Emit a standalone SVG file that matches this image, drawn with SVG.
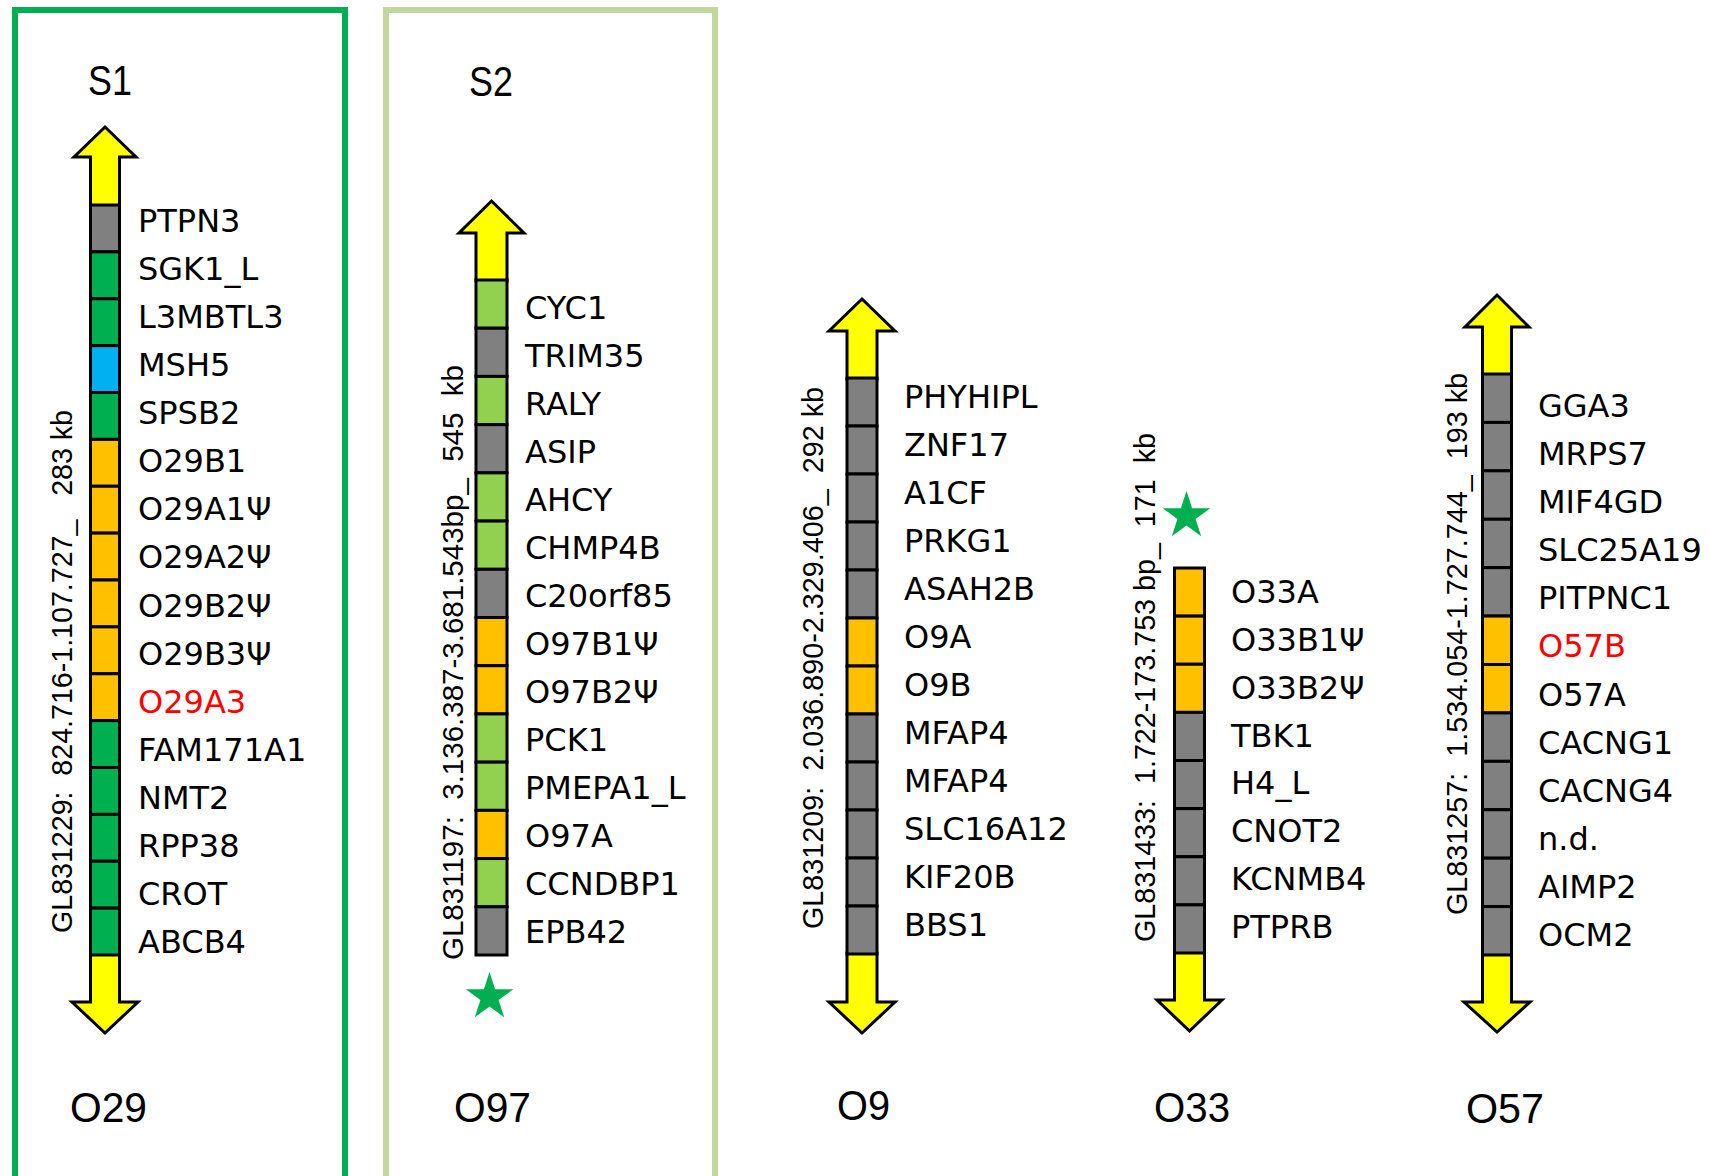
<svg xmlns="http://www.w3.org/2000/svg" width="1710" height="1176" viewBox="0 0 1710 1176">
<style>
.gene{font-family:"DejaVu Sans","Liberation Sans",sans-serif;font-size:32px;fill:#000}
.red{fill:#ff0000}
.vert{font-family:"Liberation Sans",Arial,sans-serif;font-size:29px;fill:#000;white-space:pre}
.head{font-family:"Liberation Sans",Arial,sans-serif;font-size:43px;fill:#000}
.seg{stroke:#000;stroke-width:3}
.arrow{fill:#ffff00;stroke:#000;stroke-width:3;stroke-linejoin:miter}
.g{fill:#808080}.dg{fill:#00b050}.lg{fill:#92d050}.o{fill:#ffc000}.b{fill:#00b0f0}
.star{fill:#00b050}
</style>
<defs>
<path id="star" d="M0,-25 L5.61,-7.73 L23.78,-7.73 L9.08,2.95 L14.69,20.23 L0,9.55 L-14.69,20.23 L-9.08,2.95 L-23.78,-7.73 L-5.61,-7.73 Z"/>
</defs>
<rect x="15" y="10" width="330" height="1180" fill="none" stroke="#00b050" stroke-width="6"/>
<rect x="386" y="10" width="329" height="1180" fill="none" stroke="#c3d69b" stroke-width="6"/>

<g id="O29">
<text class="head" x="88" y="95" textLength="44" lengthAdjust="spacingAndGlyphs">S1</text>
<polygon class="arrow" points="90.5,206 90.5,157 74,157 105,127 136,157 119.5,157 119.5,206"/>
<polygon class="arrow" points="90.5,954 90.5,1002 72,1002 105,1033 138,1002 119.5,1002 119.5,954"/>
<rect class="seg g" x="90.5" y="205" width="29" height="46.875"/>
<rect class="seg dg" x="90.5" y="251.875" width="29" height="46.875"/>
<rect class="seg dg" x="90.5" y="298.75" width="29" height="46.875"/>
<rect class="seg b" x="90.5" y="345.625" width="29" height="46.875"/>
<rect class="seg dg" x="90.5" y="392.5" width="29" height="46.875"/>
<rect class="seg o" x="90.5" y="439.375" width="29" height="46.875"/>
<rect class="seg o" x="90.5" y="486.25" width="29" height="46.875"/>
<rect class="seg o" x="90.5" y="533.125" width="29" height="46.875"/>
<rect class="seg o" x="90.5" y="580" width="29" height="46.875"/>
<rect class="seg o" x="90.5" y="626.875" width="29" height="46.875"/>
<rect class="seg o" x="90.5" y="673.75" width="29" height="46.875"/>
<rect class="seg dg" x="90.5" y="720.625" width="29" height="46.875"/>
<rect class="seg dg" x="90.5" y="767.5" width="29" height="46.875"/>
<rect class="seg dg" x="90.5" y="814.375" width="29" height="46.875"/>
<rect class="seg dg" x="90.5" y="861.25" width="29" height="46.875"/>
<rect class="seg dg" x="90.5" y="908.125" width="29" height="46.875"/>
<text class="gene" x="138" y="232">PTPN3</text>
<text class="gene" x="138" y="280">SGK1_L</text>
<text class="gene" x="138" y="328">L3MBTL3</text>
<text class="gene" x="138" y="376">MSH5</text>
<text class="gene" x="138" y="424">SPSB2</text>
<text class="gene" x="138" y="472">O29B1</text>
<text class="gene" x="138" y="520">O29A1Ψ</text>
<text class="gene" x="138" y="568">O29A2Ψ</text>
<text class="gene" x="138" y="617">O29B2Ψ</text>
<text class="gene" x="138" y="665">O29B3Ψ</text>
<text class="gene red" x="138" y="713">O29A3</text>
<text class="gene" x="138" y="761">FAM171A1</text>
<text class="gene" x="138" y="809">NMT2</text>
<text class="gene" x="138" y="857">RPP38</text>
<text class="gene" x="138" y="905">CROT</text>
<text class="gene" x="138" y="953">ABCB4</text>
<text class="vert" transform="translate(72,933) rotate(-90)" textLength="523" lengthAdjust="spacingAndGlyphs">GL831229:  824.716-1.107.727_   283 kb</text>
<text class="head" x="70" y="1122" textLength="77" lengthAdjust="spacingAndGlyphs">O29</text>
</g>

<g id="O97">
<text class="head" x="469" y="96" textLength="44" lengthAdjust="spacingAndGlyphs">S2</text>
<polygon class="arrow" points="476,281 476,233 459,233 491.5,201 524,233 507,233 507,281"/>
<rect class="seg lg" x="476" y="280" width="31" height="48.21"/>
<rect class="seg g" x="476" y="328.21" width="31" height="48.21"/>
<rect class="seg lg" x="476" y="376.43" width="31" height="48.21"/>
<rect class="seg g" x="476" y="424.64" width="31" height="48.21"/>
<rect class="seg lg" x="476" y="472.86" width="31" height="48.21"/>
<rect class="seg lg" x="476" y="521.07" width="31" height="48.21"/>
<rect class="seg g" x="476" y="569.29" width="31" height="48.21"/>
<rect class="seg o" x="476" y="617.5" width="31" height="48.21"/>
<rect class="seg o" x="476" y="665.71" width="31" height="48.21"/>
<rect class="seg lg" x="476" y="713.93" width="31" height="48.21"/>
<rect class="seg lg" x="476" y="762.14" width="31" height="48.21"/>
<rect class="seg o" x="476" y="810.36" width="31" height="48.21"/>
<rect class="seg lg" x="476" y="858.57" width="31" height="48.21"/>
<rect class="seg g" x="476" y="906.79" width="31" height="48.21"/>
<text class="gene" x="525" y="319">CYC1</text>
<text class="gene" x="525" y="367">TRIM35</text>
<text class="gene" x="525" y="415">RALY</text>
<text class="gene" x="525" y="463">ASIP</text>
<text class="gene" x="525" y="511">AHCY</text>
<text class="gene" x="525" y="559">CHMP4B</text>
<text class="gene" x="525" y="607">C20orf85</text>
<text class="gene" x="525" y="655">O97B1Ψ</text>
<text class="gene" x="525" y="703">O97B2Ψ</text>
<text class="gene" x="525" y="751">PCK1</text>
<text class="gene" x="525" y="799">PMEPA1_L</text>
<text class="gene" x="525" y="847">O97A</text>
<text class="gene" x="525" y="895">CCNDBP1</text>
<text class="gene" x="525" y="943">EPB42</text>
<use href="#star" class="star" transform="translate(489.5,997)"/>
<text class="vert" transform="translate(463,960) rotate(-90)" textLength="595" lengthAdjust="spacingAndGlyphs">GL831197:  3.136.387-3.681.543bp_  545  kb</text>
<text class="head" x="454" y="1122" textLength="77" lengthAdjust="spacingAndGlyphs">O97</text>
</g>

<g id="O9">
<polygon class="arrow" points="847,379 847,331 829,331 862,299 895,331 877,331 877,379"/>
<polygon class="arrow" points="847,953 847,1002 829,1002 862,1033 895,1002 877,1002 877,953"/>
<rect class="seg g" x="847" y="378" width="30" height="48"/>
<rect class="seg g" x="847" y="426" width="30" height="48"/>
<rect class="seg g" x="847" y="474" width="30" height="48"/>
<rect class="seg g" x="847" y="522" width="30" height="48"/>
<rect class="seg g" x="847" y="570" width="30" height="48"/>
<rect class="seg o" x="847" y="618" width="30" height="48"/>
<rect class="seg o" x="847" y="666" width="30" height="48"/>
<rect class="seg g" x="847" y="714" width="30" height="48"/>
<rect class="seg g" x="847" y="762" width="30" height="48"/>
<rect class="seg g" x="847" y="810" width="30" height="48"/>
<rect class="seg g" x="847" y="858" width="30" height="48"/>
<rect class="seg g" x="847" y="906" width="30" height="48"/>
<text class="gene" x="904" y="408">PHYHIPL</text>
<text class="gene" x="904" y="456">ZNF17</text>
<text class="gene" x="904" y="504">A1CF</text>
<text class="gene" x="904" y="552">PRKG1</text>
<text class="gene" x="904" y="600">ASAH2B</text>
<text class="gene" x="904" y="648">O9A</text>
<text class="gene" x="904" y="696">O9B</text>
<text class="gene" x="904" y="744">MFAP4</text>
<text class="gene" x="904" y="792">MFAP4</text>
<text class="gene" x="904" y="840">SLC16A12</text>
<text class="gene" x="904" y="888">KIF20B</text>
<text class="gene" x="904" y="936">BBS1</text>
<text class="vert" transform="translate(823,929) rotate(-90)" textLength="542" lengthAdjust="spacingAndGlyphs">GL831209:  2.036.890-2.329.406_  292 kb</text>
<text class="head" x="837" y="1120" textLength="53" lengthAdjust="spacingAndGlyphs">O9</text>
</g>

<g id="O33">
<use href="#star" class="star" transform="translate(1186.5,516)"/>
<polygon class="arrow" points="1174.5,952 1174.5,1000 1157,1000 1189.5,1031 1222,1000 1204.5,1000 1204.5,952"/>
<rect class="seg o" x="1174.5" y="568" width="30" height="48.125"/>
<rect class="seg o" x="1174.5" y="616.125" width="30" height="48.125"/>
<rect class="seg o" x="1174.5" y="664.25" width="30" height="48.125"/>
<rect class="seg g" x="1174.5" y="712.375" width="30" height="48.125"/>
<rect class="seg g" x="1174.5" y="760.5" width="30" height="48.125"/>
<rect class="seg g" x="1174.5" y="808.625" width="30" height="48.125"/>
<rect class="seg g" x="1174.5" y="856.75" width="30" height="48.125"/>
<rect class="seg g" x="1174.5" y="904.875" width="30" height="48.125"/>
<text class="gene" x="1231" y="603">O33A</text>
<text class="gene" x="1231" y="651">O33B1Ψ</text>
<text class="gene" x="1231" y="699">O33B2Ψ</text>
<text class="gene" x="1231" y="747">TBK1</text>
<text class="gene" x="1231" y="794">H4_L</text>
<text class="gene" x="1231" y="842">CNOT2</text>
<text class="gene" x="1231" y="890">KCNMB4</text>
<text class="gene" x="1231" y="938">PTPRB</text>
<text class="vert" transform="translate(1155,942) rotate(-90)" textLength="509" lengthAdjust="spacingAndGlyphs">GL831433:  1.722-173.753 bp_  171  kb</text>
<text class="head" x="1154" y="1122" textLength="76" lengthAdjust="spacingAndGlyphs">O33</text>
</g>

<g id="O57">
<polygon class="arrow" points="1482.5,375 1482.5,327 1465,327 1497,295 1529,327 1511.5,327 1511.5,375"/>
<polygon class="arrow" points="1482.5,954 1482.5,1002 1464,1002 1497,1032 1530,1002 1511.5,1002 1511.5,954"/>
<rect class="seg g" x="1482.5" y="374" width="29" height="48.42"/>
<rect class="seg g" x="1482.5" y="422.42" width="29" height="48.42"/>
<rect class="seg g" x="1482.5" y="470.83" width="29" height="48.42"/>
<rect class="seg g" x="1482.5" y="519.25" width="29" height="48.42"/>
<rect class="seg g" x="1482.5" y="567.67" width="29" height="48.42"/>
<rect class="seg o" x="1482.5" y="616.08" width="29" height="48.42"/>
<rect class="seg o" x="1482.5" y="664.5" width="29" height="48.42"/>
<rect class="seg g" x="1482.5" y="712.92" width="29" height="48.42"/>
<rect class="seg g" x="1482.5" y="761.33" width="29" height="48.42"/>
<rect class="seg g" x="1482.5" y="809.75" width="29" height="48.42"/>
<rect class="seg g" x="1482.5" y="858.17" width="29" height="48.42"/>
<rect class="seg g" x="1482.5" y="906.58" width="29" height="48.42"/>
<text class="gene" x="1538" y="417">GGA3</text>
<text class="gene" x="1538" y="465">MRPS7</text>
<text class="gene" x="1538" y="513">MIF4GD</text>
<text class="gene" x="1538" y="561">SLC25A19</text>
<text class="gene" x="1538" y="609">PITPNC1</text>
<text class="gene red" x="1538" y="657">O57B</text>
<text class="gene" x="1538" y="706">O57A</text>
<text class="gene" x="1538" y="754">CACNG1</text>
<text class="gene" x="1538" y="802">CACNG4</text>
<text class="gene" x="1538" y="850">n.d.</text>
<text class="gene" x="1538" y="898">AIMP2</text>
<text class="gene" x="1538" y="946">OCM2</text>
<text class="vert" transform="translate(1467,915) rotate(-90)" textLength="542" lengthAdjust="spacingAndGlyphs">GL831257:  1.534.054-1.727.744_  193 kb</text>
<text class="head" x="1466" y="1123" textLength="78" lengthAdjust="spacingAndGlyphs">O57</text>
</g>
<g id="connectors"/>
</svg>
